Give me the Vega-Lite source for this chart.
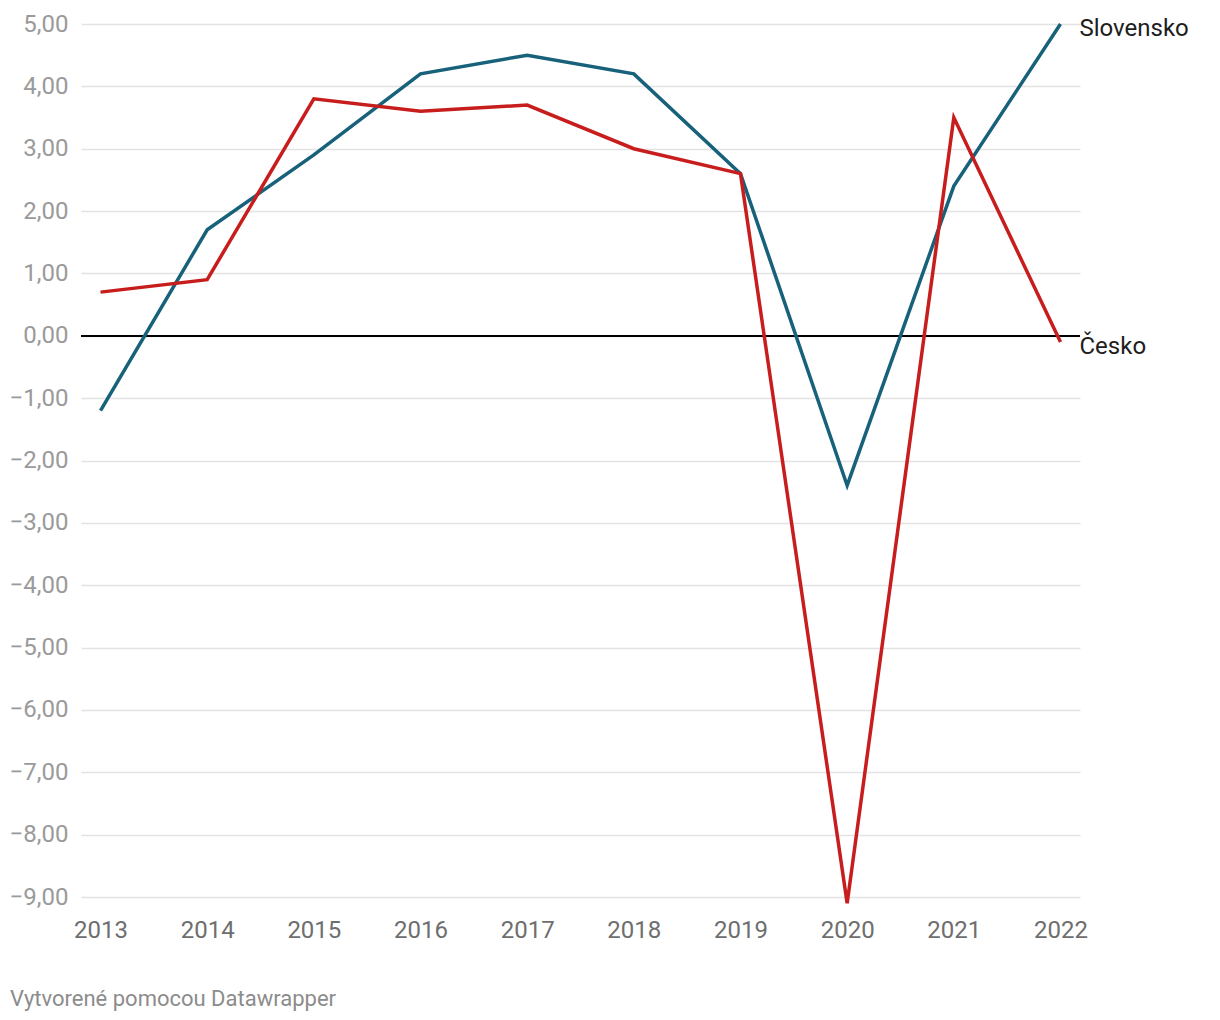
{
  "$schema": "https://vega.github.io/schema/vega-lite/v6.json",
  "width": 999,
  "height": 873,
  "autosize": {"type": "none"},
  "padding": {"left": 81, "top": 24, "right": 140, "bottom": 123},
  "background": "white",
  "config": {
    "font": "Roboto",
    "view": {"stroke": null}
  },
  "title": {
    "text": "Vytvorené pomocou Datawrapper",
    "orient": "bottom",
    "anchor": "start",
    "frame": "group",
    "dx": -71,
    "offset": 47,
    "fontSize": 22,
    "font": "Roboto",
    "fontWeight": "normal",
    "color": "#8c8c8c"
  },
  "data": {
    "values": [
      {"year": "2013", "country": "Slovensko", "value": -1.2},
      {"year": "2014", "country": "Slovensko", "value": 1.7},
      {"year": "2015", "country": "Slovensko", "value": 2.9},
      {"year": "2016", "country": "Slovensko", "value": 4.2},
      {"year": "2017", "country": "Slovensko", "value": 4.5},
      {"year": "2018", "country": "Slovensko", "value": 4.2},
      {"year": "2019", "country": "Slovensko", "value": 2.6},
      {"year": "2020", "country": "Slovensko", "value": -2.4},
      {"year": "2021", "country": "Slovensko", "value": 2.4},
      {"year": "2022", "country": "Slovensko", "value": 5.0},
      {"year": "2013", "country": "Česko", "value": 0.7},
      {"year": "2014", "country": "Česko", "value": 0.9},
      {"year": "2015", "country": "Česko", "value": 3.8},
      {"year": "2016", "country": "Česko", "value": 3.6},
      {"year": "2017", "country": "Česko", "value": 3.7},
      {"year": "2018", "country": "Česko", "value": 3.0},
      {"year": "2019", "country": "Česko", "value": 2.6},
      {"year": "2020", "country": "Česko", "value": -9.1},
      {"year": "2021", "country": "Česko", "value": 3.5},
      {"year": "2022", "country": "Česko", "value": -0.1}
    ]
  },
  "encoding": {
    "x": {
      "field": "year",
      "type": "ordinal",
      "scale": {"type": "point", "padding": 0.183},
      "axis": {
        "title": null,
        "labelAngle": 0,
        "labelFontSize": 24,
        "labelColor": "#6e6e6e",
        "labelFont": "Roboto",
        "domain": false,
        "ticks": false,
        "labelPadding": 21,
        "grid": false
      }
    },
    "y": {
      "field": "value",
      "type": "quantitative",
      "scale": {"domain": [-9, 5], "nice": false, "zero": false},
      "axis": {
        "title": null,
        "values": [-9, -8, -7, -6, -5, -4, -3, -2, -1, 0, 1, 2, 3, 4, 5],
        "labelExpr": "replace(format(datum.value, '.2f'), '.', ',')",
        "labelFontSize": 24,
        "labelColor": "#9a9a9a",
        "labelFont": "Roboto",
        "domain": false,
        "ticks": false,
        "labelPadding": 13,
        "gridColor": "#e3e3e3",
        "gridWidth": 1.5
      }
    }
  },
  "layer": [
    {
      "mark": {"type": "rule", "color": "#000000", "strokeWidth": 1.3},
      "encoding": {"y": {"datum": 0}, "x": null}
    },
    {
      "mark": {"type": "line", "strokeWidth": 3.5, "clip": false},
      "encoding": {
        "color": {
          "field": "country",
          "type": "nominal",
          "scale": {"domain": ["Slovensko", "Česko"], "range": ["#18617a", "#c71e1d"]},
          "legend": null
        }
      }
    },
    {
      "transform": [{"filter": "datum.year == '2022'"}],
      "mark": {"type": "text", "align": "left", "baseline": "middle", "dx": 19, "dy": 5, "fontSize": 24, "font": "Roboto", "color": "#1d1d1d"},
      "encoding": {"text": {"field": "country"}}
    }
  ]
}
